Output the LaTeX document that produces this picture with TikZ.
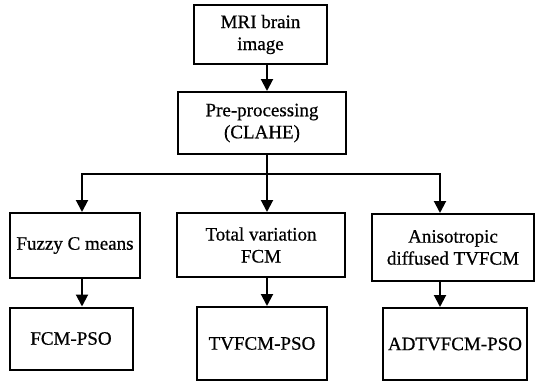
\documentclass[tikz,border=0pt]{standalone}
\usepackage{fontspec}
\setmainfont{Liberation Serif}
\newfontfamily\heavy{Liberation Serif}[FakeBold=0.6]
\usetikzlibrary{arrows.meta}
\begin{document}
\begin{tikzpicture}[x=1pt,y=-1pt,
  box/.style={draw=black,line width=2pt,fill=white,inner sep=1pt,align=center,
    font=\heavy\fontsize{19}{22}\selectfont},
  arr/.style={line width=2pt,-{Triangle[length=12pt,width=12pt]}},
  ln/.style={line width=2pt}]
\useasboundingbox (0,0) rectangle (536,383);
\node[box,minimum width=133pt,minimum height=59pt] (mri) at (260.5,34.5) {MRI brain\\image};
\node[box,minimum width=168pt,minimum height=62pt] (pre) at (262,123) {Pre-processing\\(CLAHE)};
\node[box,minimum width=130pt,minimum height=65pt] (fcm) at (75,245.5) {Fuzzy C means};
\node[box,minimum width=168pt,minimum height=64pt] (tv) at (261,245) {Total variation\\FCM};
\node[box,minimum width=162pt,minimum height=67pt] (ad) at (453,247.5) {Anisotropic\\diffused TVFCM};
\node[box,minimum width=123pt,minimum height=62pt] (fp) at (71,338.5) {FCM-PSO};
\node[box,minimum width=130pt,minimum height=73pt] (tp) at (262,343.5) {TVFCM-PSO};
\node[box,minimum width=144pt,minimum height=72pt,inner sep=0pt] (ap) at (455,344) {ADTVFCM-PSO};
\coordinate (cx) at (267,0);
\coordinate (lx) at (82,0);
\coordinate (rx) at (440,0);
\coordinate (bus) at (0,174);
\coordinate (busl) at (lx |- bus);
\coordinate (busr) at (rx |- bus);
\coordinate (busc) at (cx |- bus);
\draw[arr] (mri.south -| cx) -- (pre.north -| cx);
\draw[ln] (pre.south -| cx) -- (busc);
\draw[ln,line cap=rect] (busl) -- (busr);
\draw[arr] (busl) -- (fcm.north -| lx);
\draw[arr] (busc) -- (tv.north -| cx);
\draw[arr] (busr) -- (ad.north -| rx);
\draw[arr] (fcm.south -| lx) -- (fp.north -| lx);
\draw[arr] (tv.south -| cx) -- (tp.north -| cx);
\draw[arr] (ad.south -| rx) -- (ap.north -| rx);
\end{tikzpicture}
\end{document}
